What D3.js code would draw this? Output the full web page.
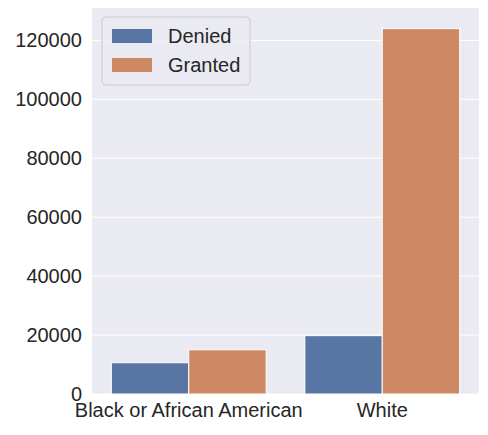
<!DOCTYPE html>
<html><head><meta charset="utf-8">
<script src="https://cdn.jsdelivr.net/npm/d3@7"></script>
<style>body{margin:0;background:#fff}text{font-family:"Liberation Sans",Arial,sans-serif;fill:#262626}</style>
</head><body>
<script>
const categories = ["Black or African American", "White"];
const series = ["Denied", "Granted"];
const denied = [10600, 19800];
const granted = [15000, 124000];
const colours = ["#5975a4", "#cc8963"];

const W = 488, H = 435;
const m = {left: 92, right: 9, top: 8, bottom: 41};
const font = "Liberation Sans, Arial, sans-serif";
const svg = d3.select("body").append("svg").attr("width", W).attr("height", H);

const x = d3.scaleBand().domain(categories).range([m.left, W - m.right]).paddingInner(0.2).paddingOuter(0.1);
const x1 = d3.scaleBand().domain(series).range([0, x.bandwidth()]);
const y = d3.scaleLinear().domain([0, 131000]).range([H - m.bottom, m.top]);

svg.append("rect").attr("x", m.left).attr("y", m.top)
  .attr("width", W - m.left - m.right).attr("height", H - m.top - m.bottom).attr("fill", "#eaeaf2");

svg.append("g").selectAll("line").data(d3.range(0, 120001, 20000)).join("line")
  .attr("x1", m.left).attr("x2", W - m.right).attr("y1", d => y(d)).attr("y2", d => y(d))
  .attr("stroke", "#fff").attr("stroke-width", 1);

const vals = [denied, granted];
series.forEach((s, si) => {
  svg.append("g").selectAll("rect").data(categories).join("rect")
    .attr("x", d => x(d) + x1(s)).attr("width", x1.bandwidth())
    .attr("y", (d, i) => y(vals[si][i])).attr("height", (d, i) => y(0) - y(vals[si][i]))
    .attr("fill", colours[si]).attr("stroke", "#fff").attr("stroke-width", 1);
});

const yAxis = svg.append("g").attr("transform", `translate(${m.left},0)`)
  .call(d3.axisLeft(y).tickValues(d3.range(0, 120001, 20000)).tickFormat(d3.format("d")).tickSize(0).tickPadding(10));
yAxis.select(".domain").remove();
yAxis.selectAll("text").attr("font-size", 20).attr("fill", "#262626").attr("font-family", font);

const xAxis = svg.append("g").attr("transform", `translate(0,${H - m.bottom})`)
  .call(d3.axisBottom(x).tickSize(0).tickPadding(9));
xAxis.select(".domain").remove();
xAxis.selectAll("text").attr("font-size", 20).attr("fill", "#262626").attr("font-family", font);

const lg = svg.append("g").attr("transform", "translate(102,17)");
lg.append("rect").attr("width", 148).attr("height", 68).attr("rx", 4)
  .attr("fill", "#eaeaf2").attr("fill-opacity", 0.8).attr("stroke", "#cccccc");
series.forEach((s, i) => {
  lg.append("rect").attr("x", 10).attr("y", 12 + i * 29).attr("width", 40).attr("height", 14).attr("fill", colours[i]);
  lg.append("text").attr("x", 66).attr("y", 26 + i * 29).attr("font-size", 20).text(s);
});
</script>
</body></html>
